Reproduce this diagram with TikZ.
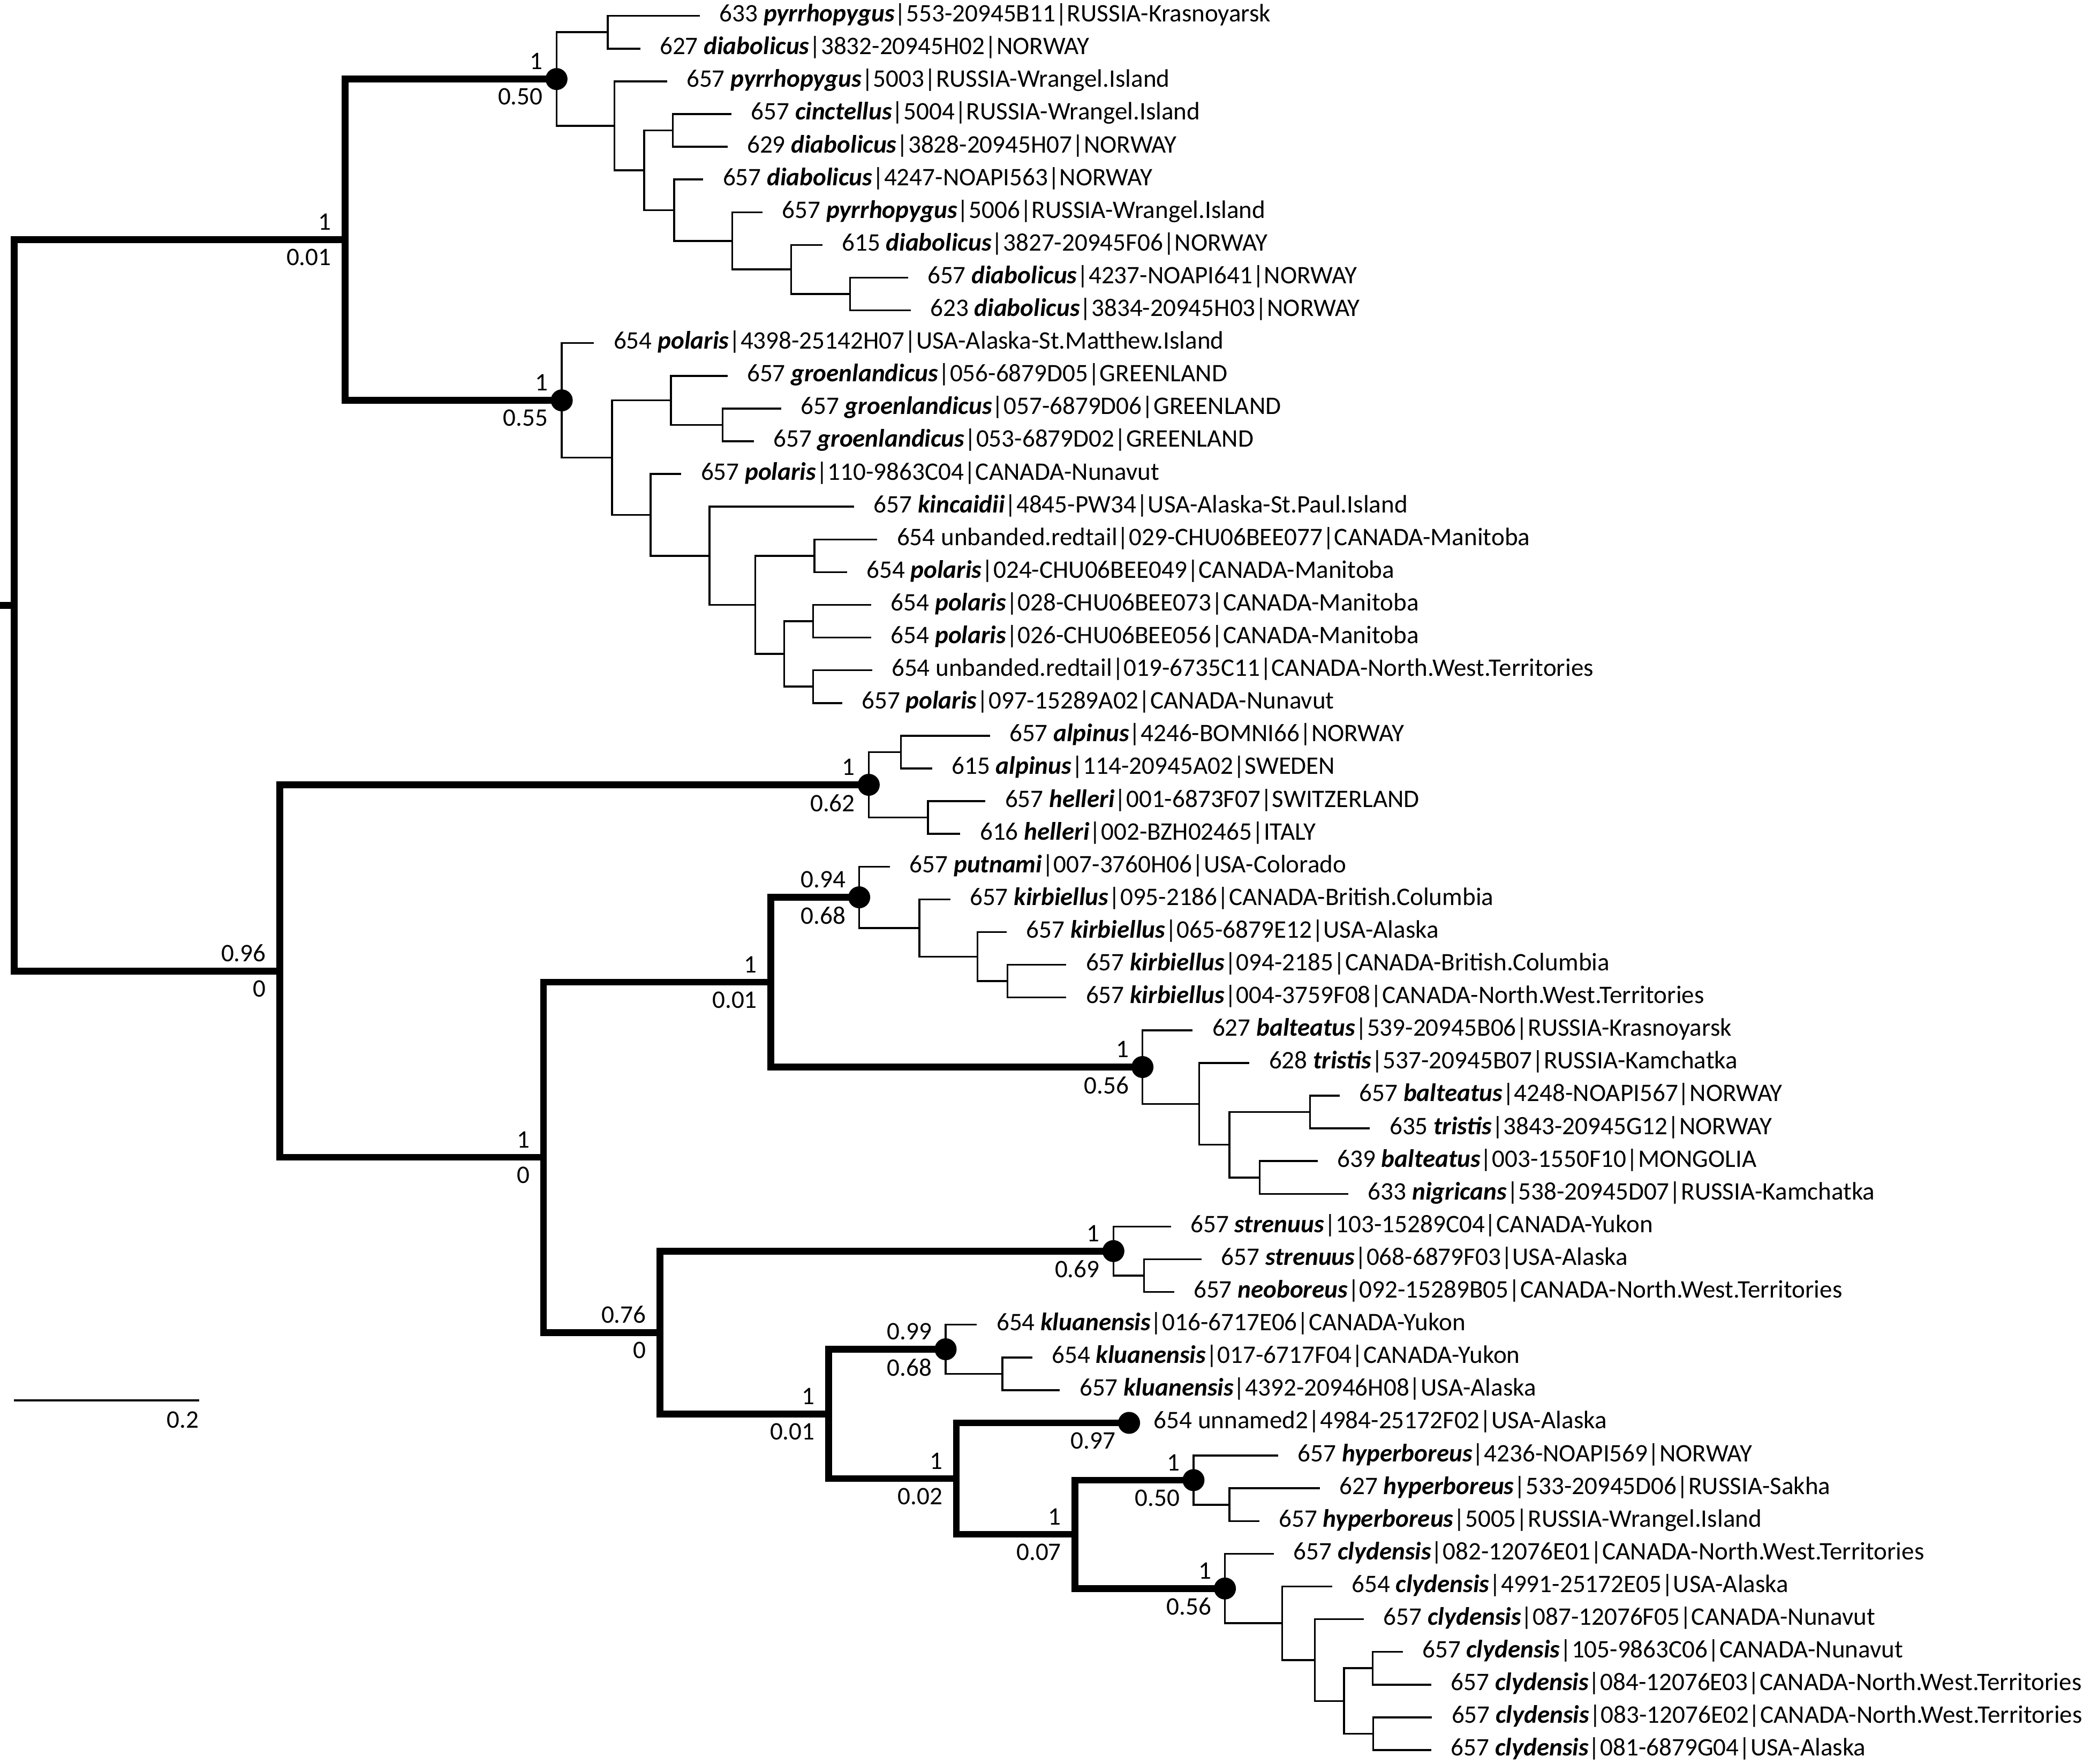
\documentclass[tikz,border=0pt]{standalone}
\usepackage{fontspec}
\setmainfont{Carlito}
\usepackage{tikz}
\newcommand\taxon[1]{\textbf{\textit{#1}}}
\tikzset{
  br/.style={line width=1pt},
  bb/.style={line width=3.6pt},
  leaflab/.style={anchor=base west, inner sep=0pt, xshift=0.36cm, yshift=-0.11cm, font=\fontsize{13.4}{16}\selectfont},
  supa/.style={anchor=south east, inner sep=0pt, xshift=-0.25cm, yshift=0.17cm, font=\fontsize{13.4}{16}\selectfont},
  supb/.style={anchor=north east, inner sep=0pt, xshift=-0.25cm, yshift=-0.17cm, font=\fontsize{13.4}{16}\selectfont},
}
\newcommand\support[3]{%
  \node[supa] (#1-up) at (#1) {#2};
  \node[supb] (#1-lo) at (#1) {#3};}
\begin{document}
\begin{tikzpicture}[x=1cm, y=-0.611cm]
    \useasboundingbox (0,0.514) rectangle (39.05,54.41);

    % Backbone nodes
    \coordinate (stub) at (0,19.016);
    \coordinate (root) at (0.268,19.016);
    \coordinate (n1) at (6.442,7.8398);
    \coordinate (n2) at (5.223,30.1924);
    \coordinate (n3) at (10.149,35.8848);
    \coordinate (n4) at (14.395,30.5313);
    \coordinate (n5) at (12.322,41.2383);
    \coordinate (n6) at (15.473,43.7266);
    \coordinate (n7) at (17.861,45.7031);
    \coordinate (n8) at (20.075,47.4063);

    % Clade nodes (dots)
    \coordinate (pyrr) at (10.393,2.9297);
    \coordinate (pola) at (10.491,12.75);
    \coordinate (alpi) at (16.224,24.5);
    \coordinate (kirb) at (16.046,27.9375);
    \coordinate (balt) at (21.336,33.125);
    \coordinate (stren) at (20.793,38.75);
    \coordinate (klua) at (17.660,41.75);
    \coordinate (unnam) at (21.086,44);
    \coordinate (hyper) at (22.289,45.75);
    \coordinate (clyd) at (22.876,49.0625);

    % Inner nodes of the clades
    \coordinate (a1) at (11.348,1.5);
    \coordinate (a2) at (11.473,4.3594);
    \coordinate (a3) at (12.031,5.7188);
    \coordinate (a4) at (12.567,4.5);
    \coordinate (a5) at (12.589,6.9375);
    \coordinate (a6) at (13.674,7.875);
    \coordinate (a7) at (14.776,8.75);
    \coordinate (a8) at (15.875,9.5);
    \coordinate (b1) at (11.428,14.5);
    \coordinate (b2) at (12.531,12.75);
    \coordinate (b3) at (13.495,13.5);
    \coordinate (b4) at (12.152,16.25);
    \coordinate (b5) at (13.250,17.5);
    \coordinate (b6) at (14.107,19);
    \coordinate (b7) at (15.210,17.5);
    \coordinate (b8) at (14.643,20.5);
    \coordinate (b9) at (15.187,19.5);
    \coordinate (b10) at (15.187,21.5);
    \coordinate (c1) at (16.827,23.5);
    \coordinate (c2) at (17.332,25.5);
    \coordinate (d1) at (17.168,28.875);
    \coordinate (d2) at (18.255,29.75);
    \coordinate (d3) at (18.816,30.5);
    \coordinate (e1) at (22.396,34.25);
    \coordinate (e2) at (22.962,35.5);
    \coordinate (e3) at (24.466,34.5);
    \coordinate (e4) at (23.525,36.5);
    \coordinate (f1) at (21.363,39.5);
    \coordinate (g1) at (18.722,42.5);
    \coordinate (h1) at (22.959,46.5);
    \coordinate (i1) at (23.946,50.125);
    \coordinate (i2) at (24.555,51.25);
    \coordinate (i3) at (25.098,52.5);
    \coordinate (i4) at (25.633,51.5);
    \coordinate (i5) at (25.645,53.5);

    % Leaves and their labels
    \foreach \i/\x/\txt in {
      1/13.071/{633 \taxon{pyrrhopygus}|553-20945B11|RUSSIA-Krasnoyarsk},
      2/11.955/{627 \taxon{diabolicus}|3832-20945H02|NORWAY},
      3/12.455/{657 \taxon{pyrrhopygus}|5003|RUSSIA-Wrangel.Island},
      4/13.661/{657 \taxon{cinctellus}|5004|RUSSIA-Wrangel.Island},
      5/13.585/{629 \taxon{diabolicus}|3828-20945H07|NORWAY},
      6/13.134/{657 \taxon{diabolicus}|4247-NOAPI563|NORWAY},
      7/14.241/{657 \taxon{pyrrhopygus}|5006|RUSSIA-Wrangel.Island},
      8/15.357/{615 \taxon{diabolicus}|3827-20945F06|NORWAY},
      9/16.955/{657 \taxon{diabolicus}|4237-NOAPI641|NORWAY},
      10/17.007/{623 \taxon{diabolicus}|3834-20945H03|NORWAY},
      11/11.094/{654 \taxon{polaris}|4398-25142H07|USA-Alaska-St.Matthew.Island},
      12/13.585/{657 \taxon{groenlandicus}|056-6879D05|GREENLAND},
      13/14.589/{657 \taxon{groenlandicus}|057-6879D06|GREENLAND},
      14/14.076/{657 \taxon{groenlandicus}|053-6879D02|GREENLAND},
      15/12.723/{657 \taxon{polaris}|110-9863C04|CANADA-Nunavut},
      16/15.951/{657 \taxon{kincaidii}|4845-PW34|USA-Alaska-St.Paul.Island},
      17/16.384/{654 unbanded.redtail|029-CHU06BEE077|CANADA-Manitoba},
      18/15.817/{654 \taxon{polaris}|024-CHU06BEE049|CANADA-Manitoba},
      19/16.272/{654 \taxon{polaris}|028-CHU06BEE073|CANADA-Manitoba},
      20/16.272/{654 \taxon{polaris}|026-CHU06BEE056|CANADA-Manitoba},
      21/16.285/{654 unbanded.redtail|019-6735C11|CANADA-North.West.Territories},
      22/15.727/{657 \taxon{polaris}|097-15289A02|CANADA-Nunavut},
      23/18.485/{657 \taxon{alpinus}|4246-BOMNI66|NORWAY},
      24/17.408/{615 \taxon{alpinus}|114-20945A02|SWEDEN},
      25/18.403/{657 \taxon{helleri}|001-6873F07|SWITZERLAND},
      26/17.934/{616 \taxon{helleri}|002-BZH02465|ITALY},
      27/16.622/{657 \taxon{putnami}|007-3760H06|USA-Colorado},
      28/17.745/{657 \taxon{kirbiellus}|095-2186|CANADA-British.Columbia},
      29/18.801/{657 \taxon{kirbiellus}|065-6879E12|USA-Alaska},
      30/19.913/{657 \taxon{kirbiellus}|094-2185|CANADA-British.Columbia},
      31/19.913/{657 \taxon{kirbiellus}|004-3759F08|CANADA-North.West.Territories},
      32/22.273/{627 \taxon{balteatus}|539-20945B06|RUSSIA-Krasnoyarsk},
      33/23.333/{628 \taxon{tristis}|537-20945B07|RUSSIA-Kamchatka},
      34/25.021/{657 \taxon{balteatus}|4248-NOAPI567|NORWAY},
      35/25.584/{635 \taxon{tristis}|3843-20945G12|NORWAY},
      36/24.608/{639 \taxon{balteatus}|003-1550F10|MONGOLIA},
      37/25.182/{633 \taxon{nigricans}|538-20945D07|RUSSIA-Kamchatka},
      38/21.868/{657 \taxon{strenuus}|103-15289C04|CANADA-Yukon},
      39/22.442/{657 \taxon{strenuus}|068-6879F03|USA-Alaska},
      40/21.925/{657 \taxon{neoboreus}|092-15289B05|CANADA-North.West.Territories},
      41/18.244/{654 \taxon{kluanensis}|016-6717E06|CANADA-Yukon},
      42/19.277/{654 \taxon{kluanensis}|017-6717F04|CANADA-Yukon},
      43/19.794/{657 \taxon{kluanensis}|4392-20946H08|USA-Alaska},
      45/23.871/{657 \taxon{hyperboreus}|4236-NOAPI569|NORWAY},
      46/24.650/{627 \taxon{hyperboreus}|533-20945D06|RUSSIA-Sakha},
      47/23.519/{657 \taxon{hyperboreus}|5005|RUSSIA-Wrangel.Island},
      48/23.792/{657 \taxon{clydensis}|082-12076E01|CANADA-North.West.Territories},
      49/24.878/{654 \taxon{clydensis}|4991-25172E05|USA-Alaska},
      50/25.471/{657 \taxon{clydensis}|087-12076F05|CANADA-Nunavut},
      51/26.196/{657 \taxon{clydensis}|105-9863C06|CANADA-Nunavut},
      52/26.731/{657 \taxon{clydensis}|084-12076E03|CANADA-North.West.Territories},
      53/26.743/{657 \taxon{clydensis}|083-12076E02|CANADA-North.West.Territories},
      54/26.731/{657 \taxon{clydensis}|081-6879G04|USA-Alaska}}
    {
      \coordinate (t\i) at (\x,\i);
      \node[leaflab] (l\i) at (t\i) {\txt};
    }
    \node[leaflab, xshift=0.095cm] (l44) at (unnam) {654 unnamed2|4984-25172F02|USA-Alaska};

    % Thin branches
    \foreach \p/\c in {pyrr/a1, a1/t1, a1/t2, pyrr/a2, a2/t3, a2/a3, a3/a4, a4/t4, a4/t5,
      a3/a5, a5/t6, a5/a6, a6/t7, a6/a7, a7/t8, a7/a8, a8/t9, a8/t10,
      pola/t11, pola/b1, b1/b2, b2/t12, b2/b3, b3/t13, b3/t14, b1/b4, b4/t15, b4/b5,
      b5/t16, b5/b6, b6/b7, b7/t17, b7/t18, b6/b8, b8/b9, b9/t19, b9/t20,
      b8/b10, b10/t21, b10/t22,
      alpi/c1, c1/t23, c1/t24, alpi/c2, c2/t25, c2/t26,
      kirb/t27, kirb/d1, d1/t28, d1/d2, d2/t29, d2/d3, d3/t30, d3/t31,
      balt/t32, balt/e1, e1/t33, e1/e2, e2/e3, e3/t34, e3/t35, e2/e4, e4/t36, e4/t37,
      stren/t38, stren/f1, f1/t39, f1/t40,
      klua/t41, klua/g1, g1/t42, g1/t43,
      hyper/t45, hyper/h1, h1/t46, h1/t47,
      clyd/t48, clyd/i1, i1/t49, i1/i2, i2/t50, i2/i3, i3/i4, i4/t51, i4/t52,
      i3/i5, i5/t53, i5/t54}
      \draw[br] (\p) |- (\c);

    % Thick backbone
    \draw[bb] (stub) -- (root);
    \foreach \p/\c in {root/n1, root/n2, n1/pyrr, n1/pola, n2/alpi, n2/n3, n3/n4, n3/n5,
      n4/kirb, n4/balt, n5/stren, n5/n6, n6/klua, n6/n7, n7/unnam, n7/n8,
      n8/hyper, n8/clyd}
      \draw[bb] (\p) |- (\c);

    % Clade dots
    \foreach \n in {pyrr, pola, alpi, kirb, balt, stren, klua, unnam, hyper, clyd}
      \fill (\n) circle (0.205cm);

    % Support values
    \support{n1}{1}{0.01}
    \support{pyrr}{1}{0.50}
    \support{pola}{1}{0.55}
    \support{n2}{0.96}{0}
    \support{alpi}{1}{0.62}
    \support{n3}{1}{0}
    \support{n4}{1}{0.01}
    \support{kirb}{0.94}{0.68}
    \support{balt}{1}{0.56}
    \support{n5}{0.76}{0}
    \support{stren}{1}{0.69}
    \support{n6}{1}{0.01}
    \support{klua}{0.99}{0.68}
    \node[supb] (unnam-lo) at (unnam) {0.97};
    \support{n7}{1}{0.02}
    \support{n8}{1}{0.07}
    \support{hyper}{1}{0.50}
    \support{clyd}{1}{0.56}

    % Scale bar
    \coordinate (sb1) at (0.26,43.31);
    \coordinate (sb2) at (3.717,43.31);
    \draw[br] (sb1) -- (sb2);
    \node[anchor=north east, inner sep=0pt, yshift=-0.2cm, font=\fontsize{13.4}{16}\selectfont] (sblab) at (sb2) {0.2};

\end{tikzpicture}
\end{document}
